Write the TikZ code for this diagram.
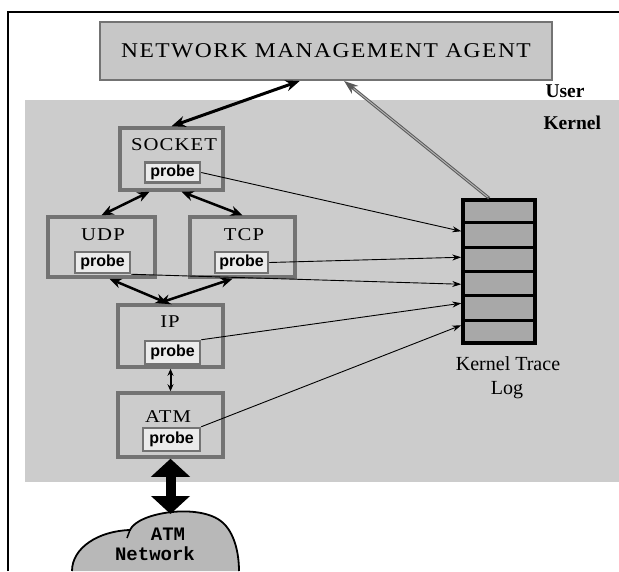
\documentclass[tikz,border=0pt]{standalone}
\usepackage{fontspec}
\setmainfont{Liberation Serif}
\newfontfamily\probefont{Liberation Sans}
\newfontfamily\netfont{Liberation Mono}
\usetikzlibrary{arrows.meta,calc}

\definecolor{kernelbg}{gray}{0.80}
\definecolor{nmabg}{gray}{0.78}
\definecolor{boxedge}{gray}{0.45}
\definecolor{probebg}{gray}{0.92}
\definecolor{logbg}{gray}{0.66}
\definecolor{cloudbg}{gray}{0.72}
\definecolor{uparrow}{gray}{0.50}

\tikzset{
  layerbox/.style={draw=boxedge, line width=3.5pt, fill=kernelbg, inner sep=0pt},
  probebox/.style={draw=boxedge, line width=2.5pt, fill=probebg, inner sep=0pt,
    minimum height=21pt, font=\probefont\bfseries\fontsize{16}{16}\selectfont},
  lbl/.style={anchor=base, font=\fontsize{18}{18}\selectfont\addfontfeature{FakeStretch=1.15,LetterSpace=6}},
  netlbl/.style={anchor=base, inner sep=0pt, font=\netfont\bfseries\fontsize{19}{19}\selectfont},
  thickpair/.style={line width=3pt, {Stealth[length=14pt,width=11pt]}-{Stealth[length=14pt,width=11pt]}},
  midpair/.style={line width=2.5pt, {Stealth[length=12pt,width=10pt]}-{Stealth[length=12pt,width=10pt]}},
  tracearrow/.style={line width=0.9pt, -{Stealth[length=9pt,width=6pt]}},
}

\begin{document}
\begin{tikzpicture}[x=1pt,y=-1pt]
\useasboundingbox (0,0) rectangle (619,571);

% kernel space shading
\fill[kernelbg] (25,100) rectangle (619,482);

% page frame
\draw[line width=2pt] (8,571) -- (8,12) -- (619,12);

% user space agent
\node[draw=boxedge, line width=2pt, fill=nmabg, minimum width=452pt, minimum height=58pt,
      inner sep=0pt, font=\fontsize{21}{21}\selectfont\addfontfeature{FakeStretch=1.12,LetterSpace=7}]
      (nma) at (326,51) {NETWORK MANAGEMENT AGENT};

\node[anchor=base west, font=\bfseries\fontsize{19.5}{20}\selectfont] (user) at (542,97) {User};
\node[anchor=base west, font=\bfseries\fontsize{19.5}{20}\selectfont] (kernel) at (540,129) {Kernel};

% protocol stack
\node[layerbox, minimum width=103pt, minimum height=62pt] (sock) at (171.5,159) {};
\node[lbl] (socktxt) at (174,150) {SOCKET};
\node[probebox, minimum width=55pt, minimum height=20pt] (sockp) at (172.5,172.5) {probe};

\node[layerbox, minimum width=107pt, minimum height=60pt] (udp) at (101.5,247) {};
\node[lbl] (udptxt) at (103,240) {UDP};
\node[probebox, minimum width=55pt] (udpp) at (102.5,262.5) {probe};

\node[layerbox, minimum width=105pt, minimum height=60pt] (tcp) at (242.5,247) {};
\node[lbl] (tcptxt) at (244,240) {TCP};
\node[probebox, minimum width=53pt] (tcpp) at (241.5,262.5) {probe};

\node[layerbox, minimum width=105pt, minimum height=62pt] (ip) at (170.5,336) {};
\node[lbl] (iptxt) at (170,327) {IP};
\node[probebox, minimum width=55pt, minimum height=23pt] (ipp) at (172.5,352.5) {probe};

\node[layerbox, minimum width=105pt, minimum height=64pt] (atm) at (170.5,425) {};
\node[lbl] (atmtxt) at (168,422) {ATM};
\node[probebox, minimum width=57pt, minimum height=23pt] (atmp) at (171.5,439.5) {probe};

% kernel trace log
\node[draw=black, line width=3.5pt, fill=logbg, minimum width=72pt, minimum height=143pt,
      inner sep=0pt] (log) at (499,271.5) {};
\foreach \k in {1,...,5}
  \draw[line width=3pt] ($(log.north west)!\k/6!(log.south west)$) -- ($(log.north east)!\k/6!(log.south east)$);
\node[anchor=base, inner sep=0pt, font=\fontsize{20}{20}\selectfont] (logtxt) at (508,370) {Kernel Trace};
\node[anchor=base, inner sep=0pt, font=\fontsize{20}{20}\selectfont] (logtxt2) at (507,394) {Log};

% ATM network cloud
\draw[line width=1.8pt, fill=cloudbg]
  (72,571) .. controls (72,548) and (98,531) .. (130,530)
  .. controls (138,512) and (200,503) .. (222,522)
  .. controls (234,532) and (239,552) .. (239,571);
\draw[line width=1.5pt] (130,530) -- (127,538);
\coordinate (cloudtop) at (170.5,514);
\node[netlbl] (net1) at (168,540) {ATM};
\node[netlbl] (net2) at (155,560) {Network};

% connection points
\coordinate (nmaL) at ($(nma.south west)!0.442!(nma.south east)$);
\coordinate (nmaR) at ($(nma.south west)!0.54!(nma.south east)$);
\coordinate (logtop) at ($(log.north west)!0.37!(log.north east)$);
\coordinate (t1) at ($(log.north west)+(0,33)$);
\coordinate (t2) at ($(log.north west)+(0,59)$);
\coordinate (t3) at ($(log.north west)+(0,86)$);
\coordinate (t4) at ($(log.north west)+(0,105)$);
\coordinate (t5) at ($(log.north west)+(0,127)$);

% data path between layers
\draw[thickpair] (sock.north) -- (nmaL);
\draw[midpair] ($(sock.south)+(-22,0)$) -- (udp.north);
\draw[midpair] ($(sock.south)+(10,0)$) -- (tcp.north);
\draw[midpair] ($(udp.south)+(8,0)$) -- ($(ip.north)+(-3,0)$);
\draw[midpair] ($(tcp.south)+(-10,0)$) -- ($(ip.north)+(-12,0)$);
\draw[line width=2pt, {Stealth[length=7pt,width=6pt]}-{Stealth[length=7pt,width=6pt]}] (ip.south) -- (atm.north);
\draw[line width=10pt, {Triangle[length=18pt,width=38pt]}-{Triangle[length=18pt,width=38pt]}] (atm.south) -- (cloudtop);

% log read by the agent
\draw[line width=3pt, draw=uparrow!70!black, -{Stealth[length=14pt,width=10pt]}] (logtop) -- (nmaR);
\draw[line width=1pt, draw=uparrow!60, shorten >=12pt, shorten <=2pt] (logtop) -- (nmaR);

% probe records into the log
\draw[tracearrow] (sockp.east) -- (t1);
\draw[tracearrow] (tcpp.east) -- (t2);
\draw[tracearrow] (udpp.south east) -- (t3);
\draw[tracearrow] (ipp.north east) -- (t4);
\draw[tracearrow] (atmp.north east) -- (t5);
\end{tikzpicture}
\end{document}
